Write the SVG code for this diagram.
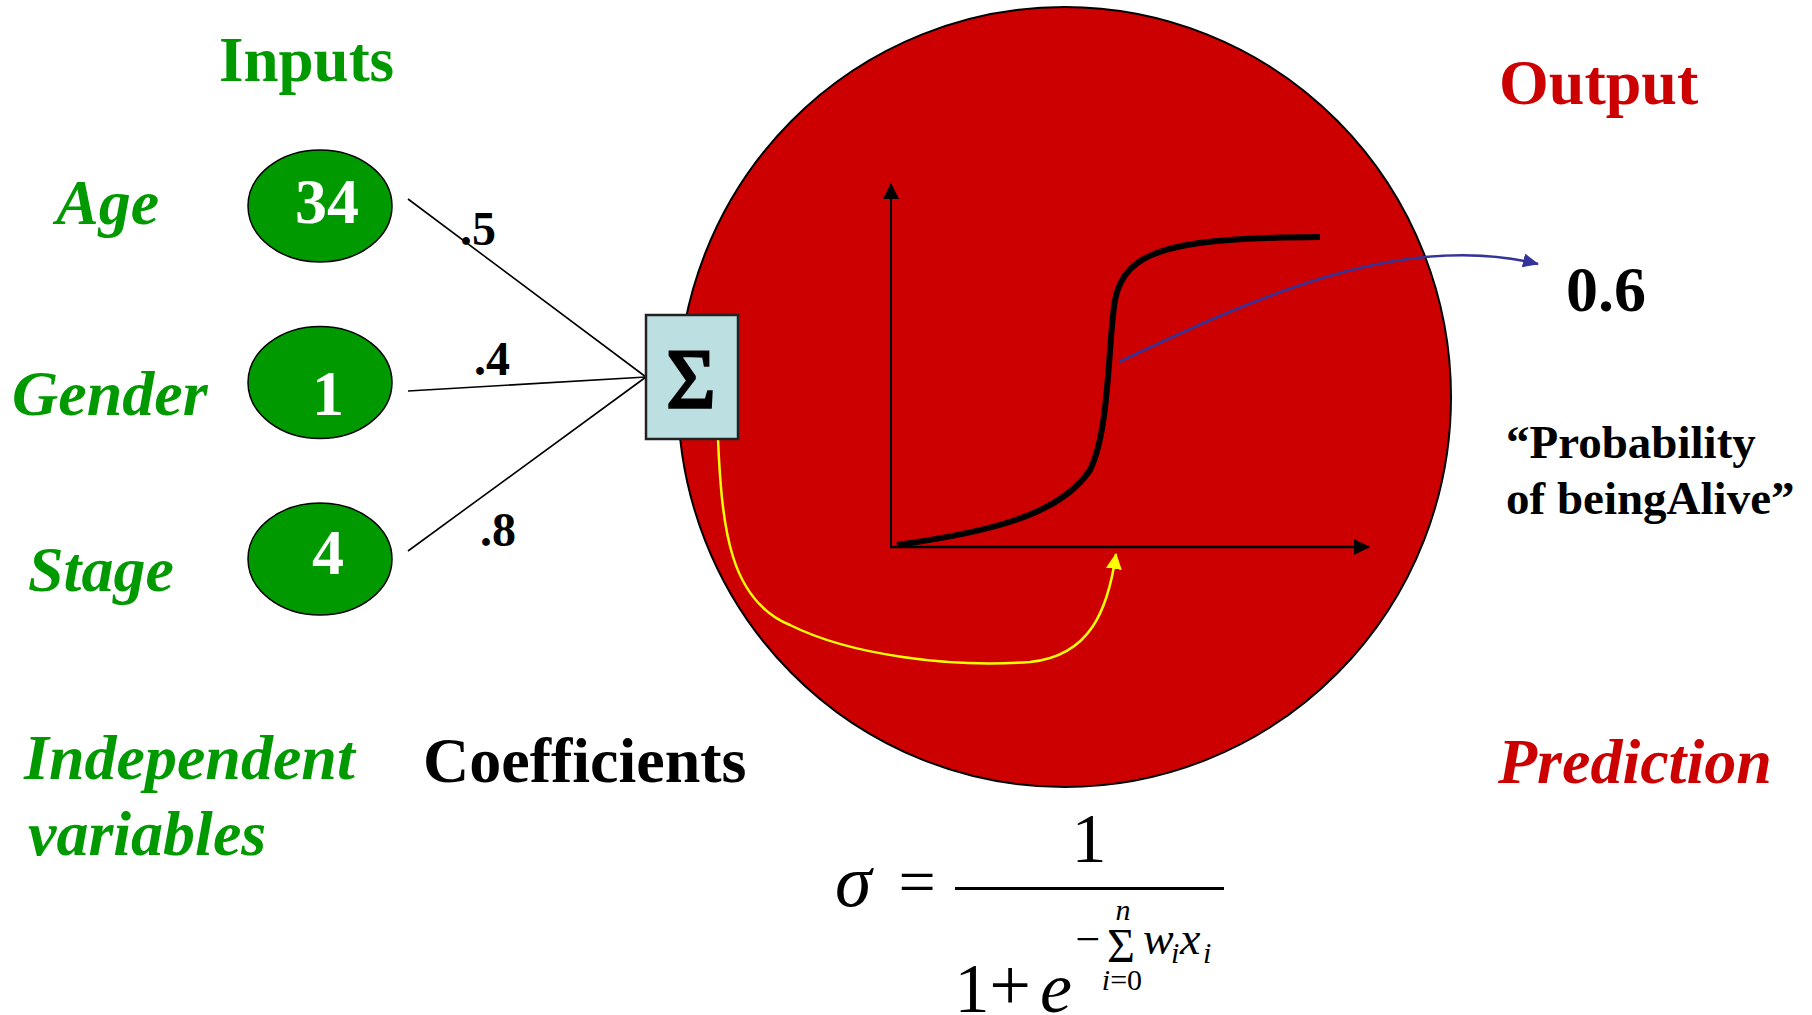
<svg xmlns="http://www.w3.org/2000/svg" width="1812" height="1015" viewBox="0 0 1812 1015">
<style>
.t{font-family:"Liberation Serif","Times New Roman",serif;font-weight:bold}
.g{fill:#009900}
.r{fill:#CC0000}
.k{fill:#000}
.it{font-style:italic}
.m{font-family:"Liberation Serif","Times New Roman",serif;font-weight:normal;fill:#000}
.node{fill:#009900;stroke:#000;stroke-width:1.5}
.num{font-family:"Liberation Serif","Times New Roman",serif;font-weight:bold;fill:#fff;font-size:64px;text-anchor:middle}
.w{stroke:#000;stroke-width:1.6;fill:none}
</style>
<defs>
<marker id="ak" markerUnits="userSpaceOnUse" markerWidth="16" markerHeight="16" refX="15" refY="8" orient="auto"><path d="M0,0 L16,8 L0,16 z" fill="#000"/></marker>
<marker id="ab" markerUnits="userSpaceOnUse" markerWidth="16" markerHeight="14" refX="15" refY="7" orient="auto"><path d="M0,0 L16,7 L0,14 z" fill="#333399"/></marker>
<marker id="ay" markerUnits="userSpaceOnUse" markerWidth="16" markerHeight="16" refX="15" refY="8" orient="auto"><path d="M0,0 L16,8 L0,16 z" fill="#FFFF00"/></marker>
</defs>
<rect width="1812" height="1015" fill="#fff"/>

<g id="neuron">
<ellipse cx="1064.5" cy="397" rx="386.5" ry="390" fill="#CC0000" stroke="#000" stroke-width="2"/>
</g>

<g id="plot">
<line x1="891" y1="547" x2="891" y2="184" stroke="#000" stroke-width="2" marker-end="url(#ak)"/>
<line x1="890" y1="547" x2="1369" y2="547" stroke="#000" stroke-width="2.5" marker-end="url(#ak)"/>
<path d="M897,545 C990,532 1060,515 1090,470 C1110,430 1108,340 1115,300 C1125,250 1170,238 1320,237" fill="none" stroke="#000" stroke-width="6"/>
</g>

<g id="connectors">
<line class="w" x1="408" y1="199" x2="646" y2="377"/>
<line class="w" x1="408" y1="391" x2="646" y2="377"/>
<line class="w" x1="408" y1="551" x2="646" y2="377"/>
<path d="M718,439 C722,530 730,600 790,625 C850,655 950,668 1030,662 C1090,656 1108,610 1116,554" fill="none" stroke="#FFFF00" stroke-width="2.5" marker-end="url(#ay)"/>
<path d="M1119,362 C1250,300 1400,230 1538,264" fill="none" stroke="#333399" stroke-width="2.5" marker-end="url(#ab)"/>
</g>

<g id="sum">
<rect x="646" y="315" width="92" height="124" fill="#BCDFE2" stroke="#222" stroke-width="2.5"/>
<text class="m" x="691" y="408" font-size="84" text-anchor="middle" stroke="#000" stroke-width="3" stroke-linejoin="miter">Σ</text>
</g>

<g id="age">
<ellipse class="node" cx="320" cy="206" rx="72" ry="56"/>
<text class="num" x="327" y="223">34</text>
</g>
<g id="gender">
<ellipse class="node" cx="320" cy="382.5" rx="72" ry="56"/>
<text class="num" x="328" y="415">1</text>
</g>
<g id="stage">
<ellipse class="node" cx="320" cy="559" rx="72" ry="56"/>
<text class="num" x="328" y="574">4</text>
</g>

<g id="labels">
<text class="t g" x="219" y="81" font-size="63">Inputs</text>
<text class="t g it" x="56" y="224" font-size="64">Age</text>
<text class="t g it" x="12" y="415" font-size="64">Gender</text>
<text class="t g it" x="28" y="591" font-size="64">Stage</text>
<text class="t k" x="460" y="245" font-size="48">.5</text>
<text class="t k" x="474" y="375" font-size="48">.4</text>
<text class="t k" x="480" y="546" font-size="48">.8</text>
<text class="t r" x="1499" y="104" font-size="64">Output</text>
<text class="t k" x="1566" y="311" font-size="64">0.6</text>
<text class="t k" x="1506" y="458" font-size="47">“Probability</text>
<text class="t k" x="1506" y="514" font-size="47">of beingAlive”</text>
<text class="t g it" x="24" y="779" font-size="64">Independent</text>
<text class="t g it" x="28" y="855" font-size="64">variables</text>
<text class="t k" x="423" y="782" font-size="64">Coefficients</text>
<text class="t r it" x="1498" y="783" font-size="64">Prediction</text>
</g>

<g id="formula">
<text class="m it" x="835" y="906" font-size="74">σ</text>
<text class="m" x="917" y="904" font-size="66" text-anchor="middle">=</text>
<line x1="955" y1="888.5" x2="1224" y2="888.5" stroke="#000" stroke-width="3"/>
<text class="m" x="1089" y="862" font-size="70" text-anchor="middle">1</text>
<text class="m" x="972" y="1012" font-size="70" text-anchor="middle">1</text>
<text class="m" x="1010" y="1010" font-size="74" text-anchor="middle">+</text>
<text class="m it" x="1056" y="1012" font-size="72" text-anchor="middle">e</text>
<text class="m" x="1088" y="954" font-size="44" text-anchor="middle">−</text>
<text class="m" x="1121" y="962" font-size="48" text-anchor="middle">Σ</text>
<text class="m it" x="1123" y="920" font-size="30" text-anchor="middle">n</text>
<text class="m" x="1122" y="990" font-size="30" text-anchor="middle"><tspan font-style="italic">i</tspan>=0</text>
<text class="m it" x="1143" y="954" font-size="46">w</text>
<text class="m it" x="1171" y="963" font-size="30">i</text>
<text class="m it" x="1180" y="954" font-size="46">x</text>
<text class="m it" x="1203" y="963" font-size="30">i</text>
</g>
</svg>
